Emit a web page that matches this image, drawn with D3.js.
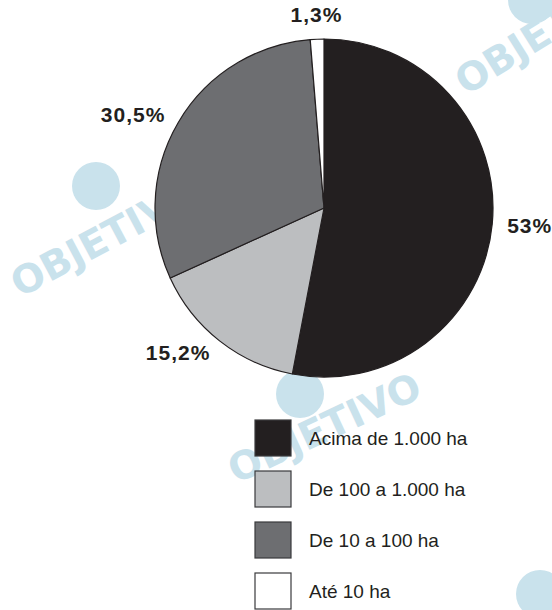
<!DOCTYPE html>
<html>
<head>
<meta charset="utf-8">
<script src="https://cdn.jsdelivr.net/npm/d3@7"></script>
<style>
  html, body { margin: 0; padding: 0; background: #fff; }
  svg { display: block; }
</style>
</head>
<body>
<svg id="chart" width="552" height="610"></svg>
<script>
// categories, in drawing order (clockwise from 12 o'clock)
const categories = ['Acima de 1.000 ha', 'De 100 a 1.000 ha', 'De 10 a 100 ha', 'Até 10 ha'];
const shares = [53, 15.2, 30.5, 1.3];
const shareLabels = ['53%', '15,2%', '30,5%', '1,3%'];
const fills = ['#231f20', '#bcbec0', '#6d6e71', '#ffffff'];

const svg = d3.select('#chart');
const ink = '#231f20';

// faint publisher watermarks behind the chart
const marks = [
  {x: 20, y: 298, rot: -28, logo: [96, 186], text: 'OBJETIVO'},
  {x: 236, y: 484, rot: -25, logo: [300, 394], text: 'OBJETIVO'},
  {x: 466, y: 96, rot: -32, logo: [532, 0], text: 'OBJETIVO'},
  {x: 0, y: 0, rot: 0, logo: [540, 594], text: ''}
];
const wm = svg.append('g').attr('class', 'watermark').attr('fill', '#c9e2ec');
marks.forEach(m => {
  wm.append('circle')
    .attr('cx', m.logo[0])
    .attr('cy', m.logo[1])
    .attr('r', 24);
  if (m.text) {
    wm.append('text')
      .attr('transform', `translate(${m.x},${m.y}) rotate(${m.rot})`)
      .attr('font-family', 'DejaVu Sans, sans-serif')
      .attr('font-weight', 'bold')
      .attr('font-size', 39)
      .text(m.text);
  }
});

// pie
const cx = 324, cy = 208, r = 169;
const pie = d3.pie().sort(null).value(d => d);
const arc = d3.arc().innerRadius(0).outerRadius(r);
const labelArc = d3.arc().innerRadius(184).outerRadius(184);

const g = svg.append('g').attr('transform', `translate(${cx},${cy})`);
const arcs = pie(shares);

g.selectAll('path')
  .data(arcs)
  .join('path')
  .attr('d', arc)
  .attr('fill', (d, i) => fills[i])
  .attr('stroke', ink)
  .attr('stroke-width', 1.2)
  .attr('stroke-linejoin', 'round');

// labels sit just outside the rim, anchored away from the pie
const side = d => {
  const x = labelArc.centroid(d)[0];
  return x > 30 ? 'start' : x < -30 ? 'end' : 'middle';
};

g.selectAll('text.pct')
  .data(arcs)
  .join('text')
  .attr('class', 'pct')
  .attr('x', d => labelArc.centroid(d)[0])
  .attr('y', d => labelArc.centroid(d)[1])
  .attr('dy', d => side(d) === 'middle' ? '-0.1em' : '0.36em')
  .attr('text-anchor', side)
  .attr('font-family', 'Liberation Sans, Arial, sans-serif')
  .attr('font-weight', 'bold')
  .attr('font-size', 21)
  .attr('letter-spacing', 1)
  .attr('fill', ink)
  .text((d, i) => shareLabels[i]);

// legend
const legendY = d3.scaleBand()
  .domain(categories)
  .range([420, 624])
  .paddingInner(0);

const legend = svg.append('g').attr('class', 'legend');
const rows = legend.selectAll('g')
  .data(categories)
  .join('g')
  .attr('transform', d => `translate(255,${legendY(d)})`);

rows.append('rect')
  .attr('width', 36)
  .attr('height', 36)
  .attr('fill', (d, i) => fills[i])
  .attr('stroke', '#3a3a3c')
  .attr('stroke-width', 1.2);

rows.append('text')
  .attr('x', 54)
  .attr('y', 25)
  .attr('font-family', 'Liberation Sans, Arial, sans-serif')
  .attr('font-size', 19)
  .attr('fill', ink)
  .text(d => d);
</script>
</body>
</html>
